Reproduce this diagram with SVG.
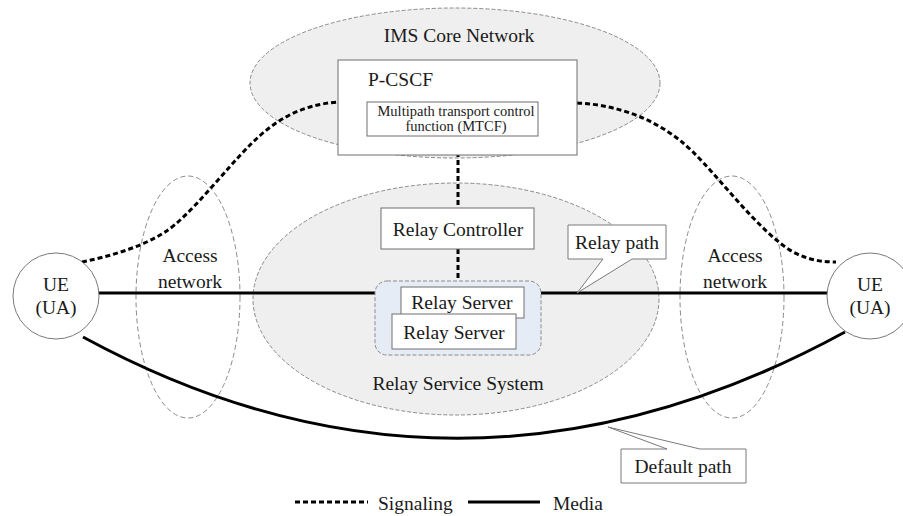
<svg xmlns="http://www.w3.org/2000/svg" width="903" height="516" viewBox="0 0 903 516" font-family="'Liberation Serif', 'DejaVu Serif', 'Times New Roman', serif">
<style>
text{fill:#1a1a1a}
.area{fill:#efefef;stroke:#8a8a8a;stroke-width:1;stroke-dasharray:4 2}
.acc{fill:none;stroke:#8a8a8a;stroke-width:1;stroke-dasharray:5 3}
.box{fill:#fff;stroke:#6e6e6e;stroke-width:1}
.sig{fill:none;stroke:#000;stroke-width:3;stroke-dasharray:5 3}
.med{fill:none;stroke:#000;stroke-width:3}
.call{fill:#fff;stroke:#7a7a7a;stroke-width:1}
.t17{font-size:19.5px}
</style>
<rect width="903" height="516" fill="#fff"/>
<g id="ims-core">
<ellipse class="area" cx="455" cy="83" rx="205" ry="75"/>
<text class="t17" x="459" y="42" text-anchor="middle">IMS Core Network</text>
</g>
<g id="relay-service-system">
<ellipse class="area" cx="456" cy="299" rx="203" ry="116"/>
<text class="t17" x="458" y="390" text-anchor="middle">Relay Service System</text>
</g>
<g id="access-left">
<ellipse class="acc" cx="188" cy="297" rx="52" ry="121"/>
<text class="t17" x="190" y="262" text-anchor="middle">Access</text>
<text class="t17" x="190" y="288" text-anchor="middle">network</text>
</g>
<g id="access-right">
<ellipse class="acc" cx="732" cy="297" rx="52" ry="121"/>
<text class="t17" x="735" y="262" text-anchor="middle">Access</text>
<text class="t17" x="735" y="288" text-anchor="middle">network</text>
</g>
<g id="connectors">
<path class="sig" d="M82,262 C110,256 140,248 165,232 S225,170 250,145 S300,105 338,102"/>
<path class="sig" d="M577,103 C620,105 655,120 682,142 S745,215 780,243 C797,257 815,262 836,262"/>
<path class="sig" d="M458,136 V208"/>
<path class="sig" d="M458,249 V281"/>
<path class="med" d="M98,293 H375"/>
<path class="med" d="M541,293 H827"/>
<path class="med" d="M83,337 Q460,542 845,332"/>
</g>
<g id="p-cscf">
<rect class="box" x="338" y="60" width="239" height="95"/>
<text class="t17" x="368" y="86">P-CSCF</text>
</g>
<g id="mtcf">
<rect class="box" x="367" y="102" width="171" height="34"/>
<text x="456" y="116" font-size="14.5" text-anchor="middle">Multipath transport control</text>
<text x="456" y="131" font-size="14.5" text-anchor="middle">function (MTCF)</text>
</g>
<g id="relay-controller">
<rect class="box" x="381" y="208" width="153" height="41"/>
<text class="t17" x="458" y="236" text-anchor="middle">Relay Controller</text>
</g>
<g id="relay-server-group">
<rect x="375" y="281" width="166" height="74" rx="12" fill="#e6ecf6" stroke="#8a8a8a" stroke-dasharray="4 2"/>
</g>
<g id="relay-server-1">
<rect class="box" x="401" y="287" width="123" height="31"/>
<text class="t17" x="462" y="309" text-anchor="middle">Relay Server</text>
</g>
<g id="relay-server-2">
<rect class="box" x="392" y="314" width="124" height="35"/>
<text class="t17" x="454" y="339" text-anchor="middle">Relay Server</text>
</g>
<g id="ue-left">
<circle cx="56" cy="296" r="43" fill="#fff" stroke="#7a7a7a"/>
<text class="t17" x="56" y="291" text-anchor="middle">UE</text>
<text class="t17" x="56" y="314" text-anchor="middle">(UA)</text>
</g>
<g id="ue-right">
<circle cx="870" cy="296" r="43" fill="#fff" stroke="#7a7a7a"/>
<text class="t17" x="870" y="291" text-anchor="middle">UE</text>
<text class="t17" x="870" y="314" text-anchor="middle">(UA)</text>
</g>
<g id="relay-path-label">
<path class="call" d="M568,225 H666 V259 H632 L577,293 L603,259 H568 Z"/>
<text class="t17" x="617" y="249" text-anchor="middle">Relay path</text>
</g>
<g id="default-path-label">
<path class="call" d="M621,449 H667 L608,427 L700,449 H746 V483 H621 Z"/>
<text class="t17" x="683" y="473" text-anchor="middle">Default path</text>
</g>
<g id="legend">
<path class="sig" d="M295,502 H368"/>
<text class="t17" x="378" y="510">Signaling</text>
<path class="med" d="M468,502 H540"/>
<text class="t17" x="553" y="510">Media</text>
</g>
</svg>
